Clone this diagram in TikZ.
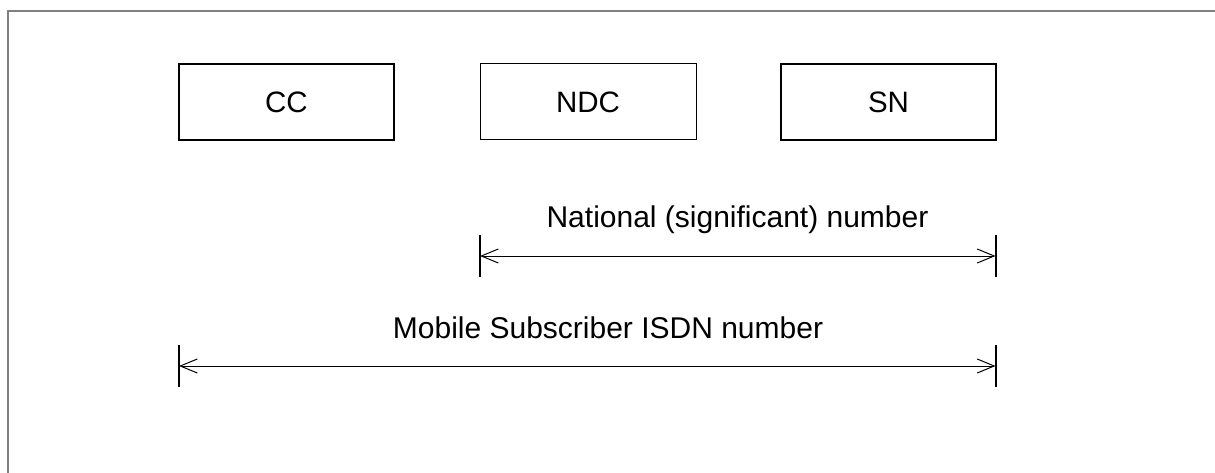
\documentclass[tikz,border=0pt]{standalone}
\usepackage{fontspec}
\setmainfont{Liberation Sans}
\usetikzlibrary{arrows.meta}
\tikzset{
  numbox/.style={draw=black, line width=2pt, minimum width=215pt, minimum height=76pt, inner sep=0pt, outer sep=0pt, font=\fontsize{29.5}{31}\selectfont},
  thinbox/.style={numbox, line width=1pt},
  dimline/.style={line width=1pt, {Straight Barb[length=17pt,width=14pt,line width=1pt]}-{Straight Barb[length=17pt,width=14pt,line width=1pt]}},
  tickmark/.style={line width=2pt},
  lbl/.style={anchor=base, inner sep=0pt, font=\fontsize{30}{32}\selectfont}
}
\begin{document}
\begin{tikzpicture}[x=1pt,y=-1pt]
\useasboundingbox (0,0) rectangle (1215,473);
\draw[color=gray, line width=1.5pt] (1215,11) -- (8,11) -- (8,473);
\node[numbox] (cc) at (286.5,102) {CC};
\node[thinbox, minimum width=216pt] (ndc) at (588,102) {NDC};
\node[numbox] (sn) at (888.5,102) {SN};
% national number
\path (ndc.south west) ++(0,116) coordinate (nA);
\path (sn.south east) ++(-0.5,116) coordinate (nB);
\draw[dimline] (nA) -- (nB);
\draw[tickmark] (nA) ++(0,-21) -- ++(0,42);
\draw[tickmark] (nB) ++(0,-21) -- ++(0,42);
\node[lbl] (nlbl) at (737.5,228) {National (significant) number};
% MSISDN
\path (cc.south west) ++(0,226) coordinate (mA);
\path (sn.south east) ++(-0.5,226) coordinate (mB);
\draw[dimline] (mA) -- (mB);
\draw[tickmark] (mA) ++(0,-21) -- ++(0,42);
\draw[tickmark] (mB) ++(0,-21) -- ++(0,42);
\node[lbl] (mlbl) at (608,338) {Mobile Subscriber ISDN number};
\end{tikzpicture}
\end{document}
